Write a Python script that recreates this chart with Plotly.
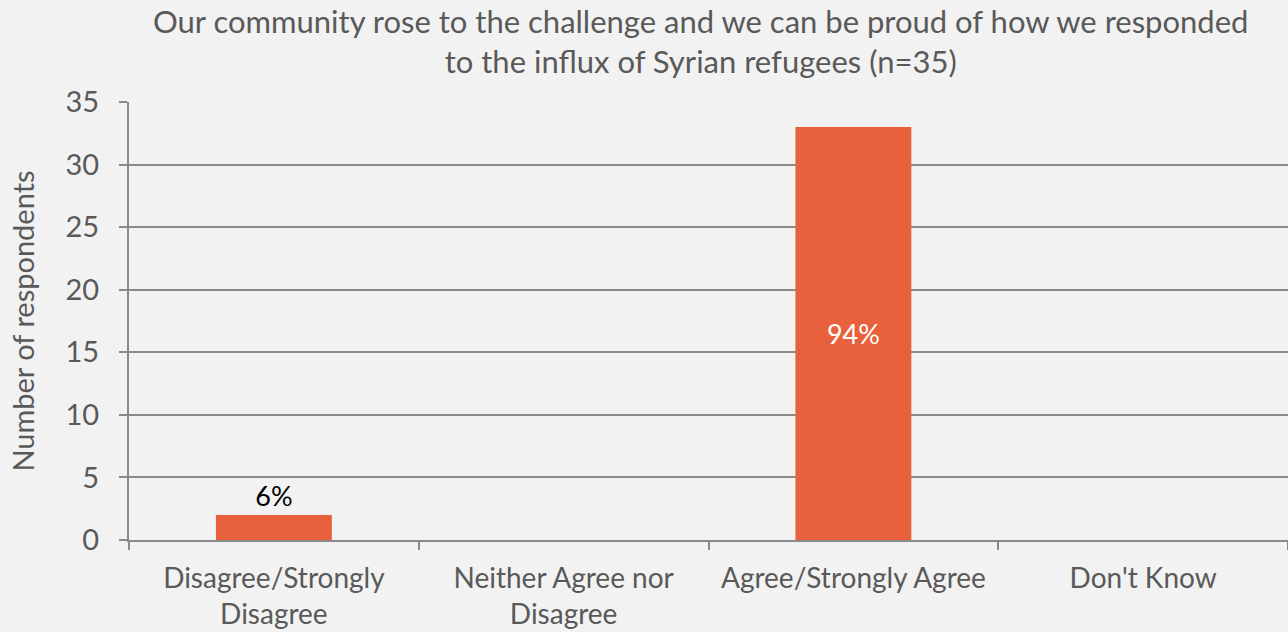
import plotly.graph_objects as go

categories = ["Disagree/Strongly<br>Disagree", "Neither Agree nor<br>Disagree", "Agree/Strongly Agree", "Don't Know"]
counts = [2, 0, 33, 0]
labels = ["6%", "", "94%", ""]
y_ticks = [0, 5, 10, 15, 20, 25, 30, 35]
title_text = "Our community rose to the challenge and we can be proud of how we responded<br>to the influx of Syrian refugees (n=35)"

FONT = "Lato"
TXT = "#595959"
GRID = "#8a8a8a"

fig = go.Figure()
fig.add_trace(go.Bar(
    x=categories, y=counts, text=labels,
    textposition=["outside", "inside", "inside", "inside"],
    insidetextanchor="middle",
    textfont=dict(family=FONT, size=27),
    outsidetextfont=dict(color="black", family=FONT, size=27),
    insidetextfont=dict(color="white", family=FONT, size=27),
    marker=dict(color="#e8603c", line=dict(width=0)),
    width=0.4, cliponaxis=False,
))

fig.add_annotation(
    text=title_text, xref="paper", yref="paper", x=0.4927, y=1.139,
    xanchor="center", yanchor="middle", showarrow=False,
    font=dict(family=FONT, size=31, color=TXT),
)

fig.update_layout(
    width=1288, height=632,
    paper_bgcolor="#f2f2f2", plot_bgcolor="#f2f2f2",
    margin=dict(l=129, r=0, t=102, b=92),
    showlegend=False,
    font=dict(family=FONT, color=TXT, size=28),
    xaxis=dict(
        tickson="boundaries", ticks="outside", ticklen=8, tickwidth=2, tickcolor=GRID,
        showline=True, linecolor=GRID, linewidth=2,
        showgrid=False, tickfont=dict(size=28, color=TXT),
        ticklabelstandoff=12,
    ),
    yaxis=dict(
        range=[0, 35], tickmode="array", tickvals=y_ticks,
        ticks="outside", ticklen=8, tickwidth=2, tickcolor=GRID,
        showline=True, linecolor=GRID, linewidth=2,
        showgrid=True, gridcolor=GRID, gridwidth=2, zeroline=False,
        tickfont=dict(size=29, color=TXT), ticklabelstandoff=14,
        title=dict(text="Number of respondents", font=dict(size=29, color=TXT), standoff=22),
    ),
)

fig.write_html(
    "out.html",
    config={"displayModeBar": False},
    post_script="document.body.style.margin='0';document.body.style.overflow='hidden';",
)
